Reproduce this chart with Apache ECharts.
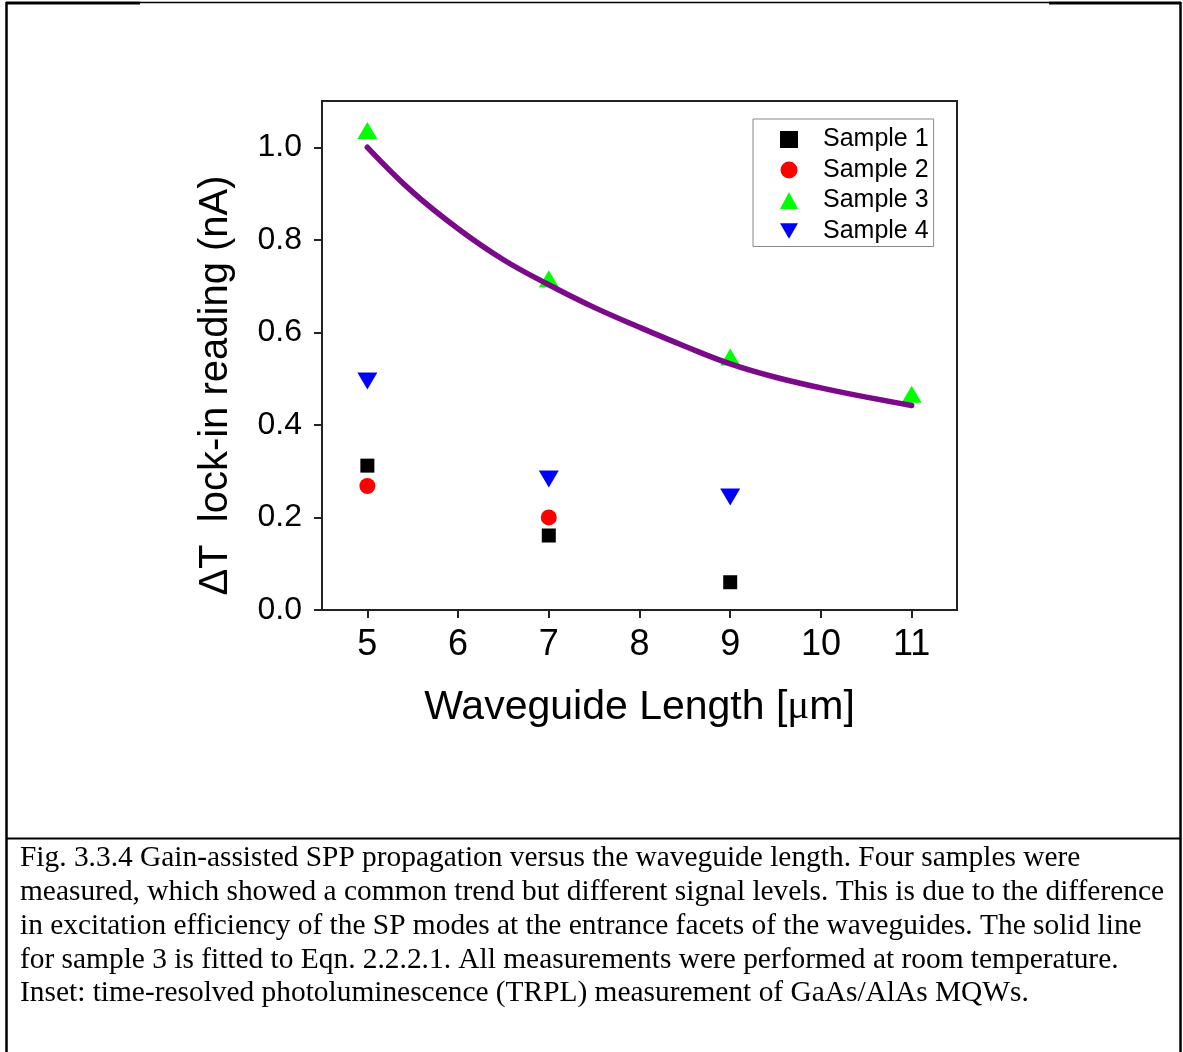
<!DOCTYPE html>
<html>
<head>
<meta charset="utf-8">
<script src="https://cdn.jsdelivr.net/npm/echarts@6/dist/echarts.min.js"></script>
<style>
html,body{margin:0;padding:0;background:#fff;}
#chart{width:1183px;height:1052px;}
</style>
</head>
<body>
<div id="chart"></div>
<script>
// ---- data ----
const xTicks = [5, 6, 7, 8, 9, 10, 11];
const yTicks = [0.0, 0.2, 0.4, 0.6, 0.8, 1.0];
const sample1X = [5, 7, 9];
const sample1Y = [0.312, 0.161, 0.060];
const sample2X = [5, 7];
const sample2Y = [0.268, 0.200];
const sample3X = [5, 7, 9, 11];
const sample3Y = [1.036, 0.716, 0.547, 0.466];
const sample4X = [5, 7, 9];
const sample4Y = [0.495, 0.283, 0.244];
const fitX = [5, 5.5, 6, 6.5, 7, 7.5, 8, 8.5, 9, 9.5, 10, 10.5, 11];
const fitY = [1.0, 0.903, 0.824, 0.757, 0.703, 0.654, 0.611, 0.570, 0.532, 0.503, 0.480, 0.460, 0.442];
const seriesNames = ['Sample 1', 'Sample 2', 'Sample 3', 'Sample 4'];
const xTitle = 'Waveguide Length [';
const yTitle = 'ΔT  lock-in reading (nA)';
const captionLines = [
  'Fig. 3.3.4 Gain-assisted SPP propagation versus the waveguide length. Four samples were',
  'measured, which showed a common trend but different signal levels. This is due to the difference',
  'in excitation efficiency of the SP modes at the entrance facets of the waveguides. The solid line',
  'for sample 3 is fitted to Eqn. 2.2.2.1. All measurements were performed at room temperature.',
  'Inset: time-resolved photoluminescence (TRPL) measurement of GaAs/AlAs MQWs.'
];

const zip = (xs, ys) => xs.map((x, i) => [x, ys[i]]);
const SANS = '"Liberation Sans", Arial, sans-serif';
const SERIF = '"Liberation Serif", "Times New Roman", serif';
const downTri = 'path://M0,0 L20,0 L10,17 Z';

const chart = echarts.init(document.getElementById('chart'));

const graphics = [];
const lineEl = (x1, y1, x2, y2, w) => ({
  type: 'line', silent: true,
  shape: {x1, y1, x2, y2},
  style: {stroke: '#000', lineWidth: w}
});
graphics.push(lineEl(6, 3, 140, 3, 3));
graphics.push(lineEl(140, 2.5, 1049, 2.5, 1.5));
graphics.push(lineEl(1049, 3, 1181, 3, 3));
graphics.push(lineEl(6.5, 2, 6.5, 1052, 2.5));
graphics.push(lineEl(1180.5, 2, 1180.5, 1052, 2.5));
graphics.push(lineEl(6, 838.5, 1181, 838.5, 2));
captionLines.forEach((t, i) => {
  graphics.push({
    type: 'text', silent: true,
    left: 20, top: 844 + i * 33.8,
    style: {text: t, font: '29.4px ' + SERIF, fill: '#000'}
  });
});

chart.setOption({
  animation: false,
  backgroundColor: '#fff',
  grid: {
    left: 322, top: 101, width: 635, height: 509,
    show: true, borderColor: '#222', borderWidth: 2, backgroundColor: 'transparent'
  },
  legend: {
    data: seriesNames,
    orient: 'vertical',
    left: 753, top: 119,
    padding: [8, 5, 3, 27],
    itemWidth: 18, itemHeight: 17,
    itemGap: 5.5,
    borderColor: '#888', borderWidth: 1,
    textStyle: {fontFamily: SANS, fontSize: 25, color: '#000', padding: [0, 0, 0, 20], lineHeight: 24}
  },
  xAxis: {
    type: 'value', min: 4.5, max: 11.5, interval: 1,
    axisLine: {show: true, onZero: false, lineStyle: {color: '#222', width: 2}},
    axisTick: {show: true, inside: false, length: 8, lineStyle: {color: '#222', width: 2},
      customValues: xTicks},
    axisLabel: {fontFamily: SANS, fontSize: 36, color: '#000', margin: 17,
      customValues: xTicks},
    splitLine: {show: false},
    name: '{n|' + xTitle + '}{mu|μ}{n|m]}',
    nameLocation: 'middle', nameGap: 77,
    nameTextStyle: {
      fontFamily: SANS, fontSize: 41, color: '#000',
      rich: {mu: {fontFamily: SERIF, fontSize: 41, color: '#000'}, n: {fontFamily: SANS, fontSize: 41, color: '#000'}}
    }
  },
  yAxis: {
    type: 'value', min: 0, max: 1.1, interval: 0.1,
    axisLine: {show: true, onZero: false, lineStyle: {color: '#222', width: 2}},
    axisTick: {show: true, inside: false, length: 8, lineStyle: {color: '#222', width: 2},
      customValues: yTicks},
    axisLabel: {fontFamily: SANS, fontSize: 32, color: '#000', margin: 20,
      customValues: yTicks,
      formatter: v => v.toFixed(1)},
    splitLine: {show: false},
    name: yTitle,
    nameLocation: 'middle', nameGap: 86, nameRotate: 90,
    nameTextStyle: {fontFamily: SANS, fontSize: 40, color: '#000', padding: [0, 60, 0, 0]}
  },
  series: [
    {name: 'Sample 1', type: 'scatter', data: zip(sample1X, sample1Y), symbol: 'rect', symbolSize: 14,
      itemStyle: {color: '#000', opacity: 1}, z: 3},
    {name: 'Sample 2', type: 'scatter', data: zip(sample2X, sample2Y), symbol: 'circle', symbolSize: 16,
      itemStyle: {color: '#ff0000', opacity: 1}, z: 3},
    {name: 'Sample 3', type: 'scatter', data: zip(sample3X, sample3Y), symbol: 'triangle', symbolSize: [20, 17],
      itemStyle: {color: '#00ff00', opacity: 1}, z: 3},
    {name: 'Sample 4', type: 'scatter', data: zip(sample4X, sample4Y), symbol: downTri, symbolSize: [20, 17],
      itemStyle: {color: '#0000ff', opacity: 1}, z: 3},
    {name: 'fit', type: 'line', data: zip(fitX, fitY), smooth: 0.4, showSymbol: false, symbol: 'none',
      lineStyle: {color: '#7a0a8a', width: 5.5, cap: 'round'}, z: 4}
  ],
  graphic: graphics
});
</script>
</body>
</html>
